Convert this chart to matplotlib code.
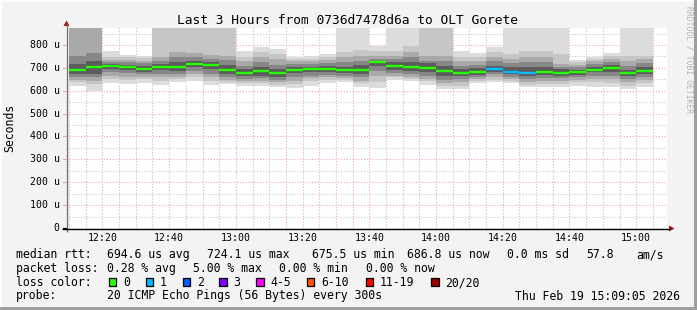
import matplotlib
matplotlib.use("Agg")
import matplotlib.pyplot as plt
import matplotlib.dates as mdates
import numpy as np
import pandas as pd
from matplotlib.patches import Rectangle, Polygon

# ---------------- data ----------------
title = "Last 3 Hours from 0736d7478d6a to OLT Gorete"
y_label = "Seconds"
y_ticks = [0, 100, 200, 300, 400, 500, 600, 700, 800]
y_tick_labels = ["0", "100 u", "200 u", "300 u", "400 u", "500 u", "600 u", "700 u", "800 u"]
x_tick_labels = ["12:20", "12:40", "13:00", "13:20", "13:40", "14:00", "14:20", "14:40", "15:00"]

window_start = "2026-02-19 12:09:05"
window_end = "2026-02-19 15:09:05"
first_bar = "2026-02-19 12:10:00"
n_bars = 35
step_min = 5

# median rtt per 5-minute step (microseconds)
median = [690, 702, 708, 704, 695, 704, 704, 718, 714, 692, 679, 688, 675.5, 691, 695,
          695, 691, 691, 724.1, 708, 704, 699, 687, 679, 682, 695, 682, 679, 683, 679,
          682, 692, 699, 679, 686.8]
# lost pings (of 20) per step
loss = [0] * 25 + [1, 1, 1] + [0] * 7

# smoke bands (outer -> inner), upper edges
hi1 = [900, 900, 772, 758, 753, 900, 900, 900, 900, 900, 775, 793, 783, 749, 752, 761, 900, 900,
       797, 900, 900, 900, 900, 775, 764, 793, 900, 900, 900, 900, 735, 749, 764, 900, 900]
hi2 = [900, 900, 746, 746, 743, 900, 900, 900, 900, 900, 749, 768, 761, 739, 739, 746, 768, 778,
       775, 775, 797, 900, 900, 749, 746, 768, 761, 775, 775, 761, 724, 739, 753, 753, 753]
hi3 = [900, 900, 736, 735, 732, 746, 768, 764, 758, 753, 732, 746, 739, 729, 729, 734, 746, 753,
       753, 753, 768, 753, 753, 729, 732, 746, 739, 746, 746, 717, 714, 729, 739, 732, 739]
hi4 = [752, 763, 727, 724, 720, 732, 746, 746, 739, 735, 710, 724, 714, 717, 717, 720, 724, 732,
       739, 739, 746, 732, 732, 710, 714, 729, 720, 724, 724, 705, 702, 717, 724, 710, 720]
hi5 = [718, 732, 717, 714, 710, 717, 724, 732, 724, 714, 695, 705, 695, 705, 705, 708, 705, 714,
       729, 724, 724, 720, 710, 695, 698, 710, 702, 702, 702, 694, 692, 705, 713, 691, 702]
# lower edges
lo5 = [675, 673, 695, 691, 683, 691, 688, 702, 695, 673, 666, 666, 659, 676, 681, 681, 676, 673,
       710, 691, 688, 681, 666, 666, 670, 683, 673, 666, 670, 666, 670, 681, 681, 666, 673]
lo4 = [660, 659, 680, 676, 673, 673, 673, 688, 673, 659, 651, 654, 647, 659, 666, 670, 666, 659,
       688, 676, 673, 666, 647, 651, 659, 673, 662, 651, 656, 656, 659, 666, 666, 651, 659]
lo3 = [648, 641, 666, 662, 662, 659, 662, 673, 659, 647, 641, 644, 637, 644, 654, 659, 656, 644,
       666, 666, 662, 651, 633, 637, 651, 659, 651, 637, 644, 644, 647, 651, 651, 637, 647]
lo2 = [638, 630, 651, 647, 651, 644, 651, 659, 644, 637, 633, 633, 627, 630, 641, 647, 647, 633,
       637, 659, 651, 641, 622, 622, 644, 647, 641, 627, 630, 630, 637, 637, 633, 622, 633]
lo1 = [622, 600, 632, 630, 633, 625, 638, 644, 627, 630, 622, 622, 615, 612, 622, 634, 640, 618,
       612, 647, 641, 627, 608, 608, 633, 637, 633, 618, 618, 615, 622, 618, 618, 608, 615]

loss_labels = ["0", "1", "2", "3", "4-5", "6-10", "11-19", "20/20"]
loss_colors = ["#26ff00", "#00b8ff", "#0059ff", "#7e00ff", "#ff00ff", "#ff5500", "#ff0000", "#a10000"]

stats_line1 = [("median rtt:", 16), ("694.6 us avg", 107), ("724.1 us max", 207),
               ("675.5 us min", 312), ("686.8 us now", 407), ("0.0 ms sd", 507),
               ("57.8", 586), ("am/s", 636)]
stats_line2 = [("packet loss:", 16), ("0.28 % avg", 107), ("5.00 % max", 193),
               ("0.00 % min", 279), ("0.00 % now", 366)]
probe_text = "20 ICMP Echo Pings (56 Bytes) every 300s"
stamp_text = "Thu Feb 19 15:09:05 2026"

# ---------------- figure ----------------
W, H = 697, 310
BG = "#f3f3f3"
MONO = "DejaVu Sans Mono"
fig = plt.figure(figsize=(W / 100, H / 100), dpi=100, facecolor=BG)

def fx(x):
    return x / W

def fy(y):
    return 1 - y / H

# background decoration axes (pixel coords)
bg = fig.add_axes([0, 0, 1, 1], zorder=-5)
bg.set_xlim(0, W)
bg.set_ylim(H, 0)
bg.axis("off")
bg.add_patch(Rectangle((0, 0), W, H, facecolor=BG, edgecolor="none"))
bg.add_patch(Rectangle((0, 0), W, 1.5, facecolor="#fdfdfd", edgecolor="none"))
bg.add_patch(Rectangle((0, 0), 1.5, H, facecolor="#fdfdfd", edgecolor="none"))
bg.add_patch(Rectangle((W - 3.5, 0), 3.5, H, facecolor="#9e9e9e", edgecolor="none"))
bg.add_patch(Rectangle((0, H - 3), W, 3, facecolor="#9e9e9e", edgecolor="none"))

# main plot
L, R, T, B = 66, 666.5, 28, 228
ax = fig.add_axes([fx(L), fy(B), (R - L) / W, (B - T) / H], zorder=1)
ax.set_facecolor("white")
for s in ax.spines.values():
    s.set_visible(False)

t0 = mdates.date2num(pd.Timestamp(window_start))
t1 = mdates.date2num(pd.Timestamp(window_end))
starts = mdates.date2num(pd.date_range(first_bar, periods=n_bars, freq=f"{step_min}min"))
width = step_min / 1440.0
ymax = 874.3
ax.set_xlim(t0, t1)
ax.set_ylim(0, ymax)
ax.set_xticks([])
ax.set_yticks([])

# grid
minor_c = "#c9c9c9"
major_c = "#f0a8a8"
for v in np.arange(50, ymax, 50):
    is_major = (v % 100 == 0)
    ax.axhline(v, color=major_c if is_major else minor_c, lw=0.8,
               dashes=(1, 1.6), zorder=0)
grid_times = mdates.date2num(pd.date_range("2026-02-19 12:10", "2026-02-19 15:05", freq="5min"))
major_times = mdates.date2num(pd.to_datetime(["2026-02-19 " + s for s in x_tick_labels]))
for gt in grid_times:
    is_major = np.any(np.isclose(gt, major_times))
    ax.axvline(gt, color=major_c if is_major else minor_c, lw=0.8,
               dashes=(1, 1.6), zorder=0)

# smoke
bands = [(lo1, hi1, "#dcdcdc"), (lo2, hi2, "#c6c6c6"), (lo3, hi3, "#a9a9a9"),
         (lo4, hi4, "#878787"), (lo5, hi5, "#5c5c5c")]
for lo, hi, col in bands:
    lo = np.array(lo, float)
    hi = np.array(hi, float)
    ax.bar(starts, hi - lo, bottom=lo, width=width, align="edge",
           color=col, linewidth=0, zorder=2)

# median lines coloured by loss
def loss_color(n):
    idx = {0: 0, 1: 1, 2: 2, 3: 3, 4: 4, 5: 4}.get(n)
    if idx is None:
        idx = 5 if n <= 10 else (6 if n <= 19 else 7)
    return loss_colors[idx]

for s, m, l in zip(starts, median, loss):
    ax.hlines(m, s, s + width, colors=loss_color(l), lw=1.7, zorder=3)

# overlay axes for axis lines, arrows, text
ov = fig.add_axes([0, 0, 1, 1], zorder=5)
ov.set_xlim(0, W)
ov.set_ylim(H, 0)
ov.axis("off")
ov.patch.set_alpha(0)
ov.plot([66.5, 66.5], [B + 4, 24], color="#707070", lw=1.0, solid_capstyle="butt")
ov.plot([62, 670], [B + 0.5, B + 0.5], color="#000000", lw=1.0, solid_capstyle="butt")
arrow_c = "#9a1a1a"
ov.add_patch(Polygon([[63.5, 26], [69.5, 26], [66.5, 20.5]], closed=True,
                     facecolor=arrow_c, edgecolor="none"))
ov.add_patch(Polygon([[669, 225.5], [669, 231.5], [674.5, 228.5]], closed=True,
                     facecolor=arrow_c, edgecolor="none"))

# y tick labels
for v, lab in zip(y_ticks, y_tick_labels):
    ypix = B - v * (B - T) / ymax
    ov.text(59.5, ypix, lab, ha="right", va="center", fontsize=7.1, family=MONO, color="#000000")
    ov.plot([63, 66], [ypix, ypix], color="#000000" if v == 0 else "#f0a8a8", lw=0.8)

# x tick labels
for lab, mt in zip(x_tick_labels, major_times):
    xpix = L + (mt - t0) / (t1 - t0) * (R - L)
    ov.text(xpix, 241, lab, ha="center", va="baseline", fontsize=7.1, family=MONO)

# title and axis label
ov.text(347.5, 24, title, ha="center", va="baseline", fontsize=9.3, family=MONO)
ov.text(10, 128, y_label, ha="center", va="center", rotation=90, fontsize=8.3, family=MONO)
ov.text(689.5, 6, "RRDTOOL / TOBI OETIKER", ha="center", va="top", rotation=270,
        fontsize=5.8, family=MONO, color="#b4b4b4")

# legend / stats
FS = 8.3
for txt, x in stats_line1:
    ov.text(x, 258, txt, ha="left", va="baseline", fontsize=FS, family=MONO)
for txt, x in stats_line2:
    ov.text(x, 272, txt, ha="left", va="baseline", fontsize=FS, family=MONO)
ov.text(16, 286, "loss color:", ha="left", va="baseline", fontsize=FS, family=MONO)
box_x = [108.7, 145.7, 182.7, 219.3, 256, 306.7, 365.7, 431]
for bx, lab, col in zip(box_x, loss_labels, loss_colors):
    ov.add_patch(Rectangle((bx, 278.3), 7.5, 7.8, facecolor=col, edgecolor="#000000", lw=0.9))
    ov.text(bx + 14.3, 286, lab, ha="left", va="baseline", fontsize=FS, family=MONO)
ov.text(16, 299.5, "probe:", ha="left", va="baseline", fontsize=FS, family=MONO)
ov.text(107, 299.5, probe_text, ha="left", va="baseline", fontsize=FS, family=MONO)
ov.text(680, 299.5, stamp_text, ha="right", va="baseline", fontsize=FS, family=MONO)

fig.savefig("out.png", dpi=100, facecolor=BG)
